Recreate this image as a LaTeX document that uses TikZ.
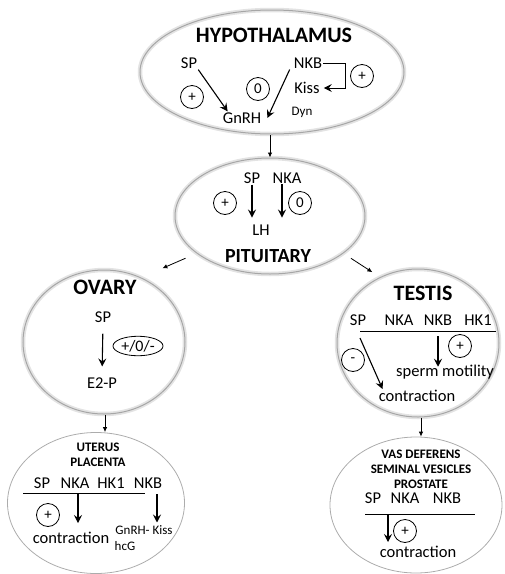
\documentclass[tikz,border=0pt]{standalone}
\usepackage{fontspec}
\setmainfont{Carlito}
\usetikzlibrary{shapes.geometric,arrows.meta}

\begin{document}
\begin{tikzpicture}[x=1pt, y=-1pt,
    bubble/.style={ellipse, draw=gray!70, line width=1pt, inner sep=0pt, preaction={draw=gray!22, line width=4.5pt}},
    flat/.style={ellipse, draw=gray!65, line width=0.8pt, inner sep=0pt},
    txt/.style={inner sep=1pt, font=\fontsize{16.5}{18}\selectfont},
    small/.style={inner sep=1pt, font=\fontsize{13}{14}\selectfont},
    head/.style={inner sep=1pt, font=\fontsize{22}{24}\selectfont\bfseries},
    organ/.style={inner sep=1pt, align=center, font=\fontsize{13}{15}\selectfont\bfseries},
    sign/.style={circle, draw, line width=0.8pt, minimum size=23pt, inner sep=0pt, font=\fontsize{15}{15}\selectfont},
    arr/.style={-{Stealth[length=8pt,width=8pt,inset=3pt]}, line width=1.1pt},
    link/.style={-{Latex[length=5pt,width=4.5pt]}, line width=0.8pt}]

    \useasboundingbox (0,0) rectangle (505,574);

    % Bubbles
    \node[bubble, minimum width=264pt, minimum height=124pt] (hypo) at (272,72) {};
    \node[bubble, minimum width=190pt, minimum height=116pt] (pit) at (270,216) {};
    \node[bubble, minimum width=162pt, minimum height=144pt] (ovary) at (104,342) {};
    \node[bubble, minimum width=162pt, minimum height=148pt] (testis) at (418,343) {};
    \node[flat, minimum width=177pt, minimum height=141pt] (uterus) at (96,503) {};
    \node[flat, minimum width=172pt, minimum height=136pt] (vas) at (416,505) {};

    % Hypothalamus
    \node[head] (hypot) at (274,35) {HYPOTHALAMUS};
    \node[txt] (hsp) at (189,63) {SP};
    \node[txt] (hnkb) at (308,63) {NKB};
    \node[txt] (hkiss) at (307,88) {Kiss};
    \node[txt] (gnrh) at (242,118) {GnRH};
    \node[small] (dyn) at (302,112) {Dyn};
    \node[sign] (hplusa) at (192,97) {+};
    \node[sign] (hzero) at (258,89) {0};
    \node[sign] (hplusb) at (362,76) {+};
    \draw[arr] (hsp.south east) -- ([xshift=6pt]gnrh.north west);
    \draw[arr] ([xshift=-3pt]hnkb.south west) -- ([xshift=5pt]gnrh.east);
    \draw[arr, line width=0.8pt] (hnkb.east) -- ++(22,0) |- ([xshift=3pt]hkiss.east);

    % Pituitary
    \node[txt] (psp) at (252,178) {SP};
    \node[txt] (pnka) at (287,178) {NKA};
    \node[txt] (plh) at (261,230) {LH};
    \node[head, font=\fontsize{20}{22}\selectfont\bfseries] (ptit) at (268,256) {PITUITARY};
    \node[sign] (pplus) at (225,203) {+};
    \node[sign] (pzero) at (300,203) {0};
    \draw[arr] (psp.south) -- ([yshift=6pt]psp.south |- plh.north);
    \draw[arr] ([xshift=-5pt]pnka.south) -- ([xshift=-5pt,yshift=6pt]pnka.south |- plh.north);

    % Ovary
    \node[head] (otit) at (105,287) {OVARY};
    \node[txt] (osp) at (103,317) {SP};
    \node[txt] (oe2p) at (102,383) {E2-P};
    \node[ellipse, draw, line width=0.8pt, inner sep=1pt, font=\fontsize{16}{16}\selectfont] (osign) at (138,346) {+/0/-};
    \draw[arr, shorten <=10pt, shorten >=10pt] (osp.south) -- (oe2p.north);

    % Testis
    \node[head] (ttit) at (423,293) {TESTIS};
    \node[txt] (tsp) at (358,320) {SP};
    \node[txt] (tnka) at (399,320) {NKA};
    \node[txt] (tnkb) at (438,320) {NKB};
    \node[txt] (thk) at (478,320) {HK1};
    \coordinate (tbar) at (360,331);
    \draw[line width=0.8pt] (tbar) -- ([xshift=3pt]tbar -| thk.east);
    \node[txt] (tmot) at (445,372) {sperm motility};
    \node[txt] (tcon) at (417,396) {contraction};
    \node[sign] (tminus) at (353,360) {-};
    \node[sign] (tplus) at (460,346) {+};
    \draw[arr] ([yshift=-7pt]tbar) -- ([xshift=5pt]tcon.north west);
    \draw[arr] ([yshift=-5pt]tbar -| tnkb) -- ([yshift=-3pt]tnkb |- tmot.north);

    % Uterus / placenta
    \node[organ] (utit) at (98,455) {UTERUS\\PLACENTA};
    \node[txt] (usp) at (42,483) {SP};
    \node[txt] (unka) at (75,483) {NKA};
    \node[txt] (uhk) at (111,483) {HK1};
    \node[txt] (unkb) at (148,483) {NKB};
    \coordinate (ubar) at (23,493);
    \draw[line width=0.8pt] (ubar) -- ++(122,0);
    \draw[arr] ([xshift=3pt]unka.south |- ubar) -- ++(0,30);
    \draw[arr] ([xshift=9pt,yshift=-5pt]unkb.south) -- ++(0,28);
    \node[sign] (uplus) at (48,515) {+};
    \node[txt] (ucon) at (71,538) {contraction};
    \node[small] (ugnrh) at (144,530) {GnRH- Kiss};
    \node[small] (uhcg) at (125,546) {hcG};

    % Vas deferens / seminal vesicles / prostate
    \node[organ] (vtit) at (421,469) {VAS DEFERENS\\SEMINAL VESICLES\\PROSTATE};
    \node[txt] (vsp) at (373,498) {SP};
    \node[txt] (vnka) at (405,498) {NKA};
    \node[txt] (vnkb) at (447,498) {NKB};
    \coordinate (vbar) at (365,514);
    \draw[line width=0.8pt] (vbar) -- ++(110,0);
    \draw[arr] ([xshift=23pt]vbar) -- ++(0,28);
    \node[sign] (vplus) at (405,531) {+};
    \node[txt] (vcon) at (418,552) {contraction};

    % Links between organs
    \draw[link] (pit.north |- hypo.south) -- (pit.north);
    \draw[link, shorten <=12pt, shorten >=23pt] (pit.207) -- (ovary.60);
    \draw[link, shorten <=9pt, shorten >=9pt] (pit.333) -- (testis.120);
    \draw[link] ([xshift=1pt]ovary.south) -- ([xshift=1pt]ovary.south |- uterus.north);
    \draw[link] ([xshift=3pt]testis.south) -- ([xshift=3pt]testis.south |- vas.north);

\end{tikzpicture}
\end{document}
